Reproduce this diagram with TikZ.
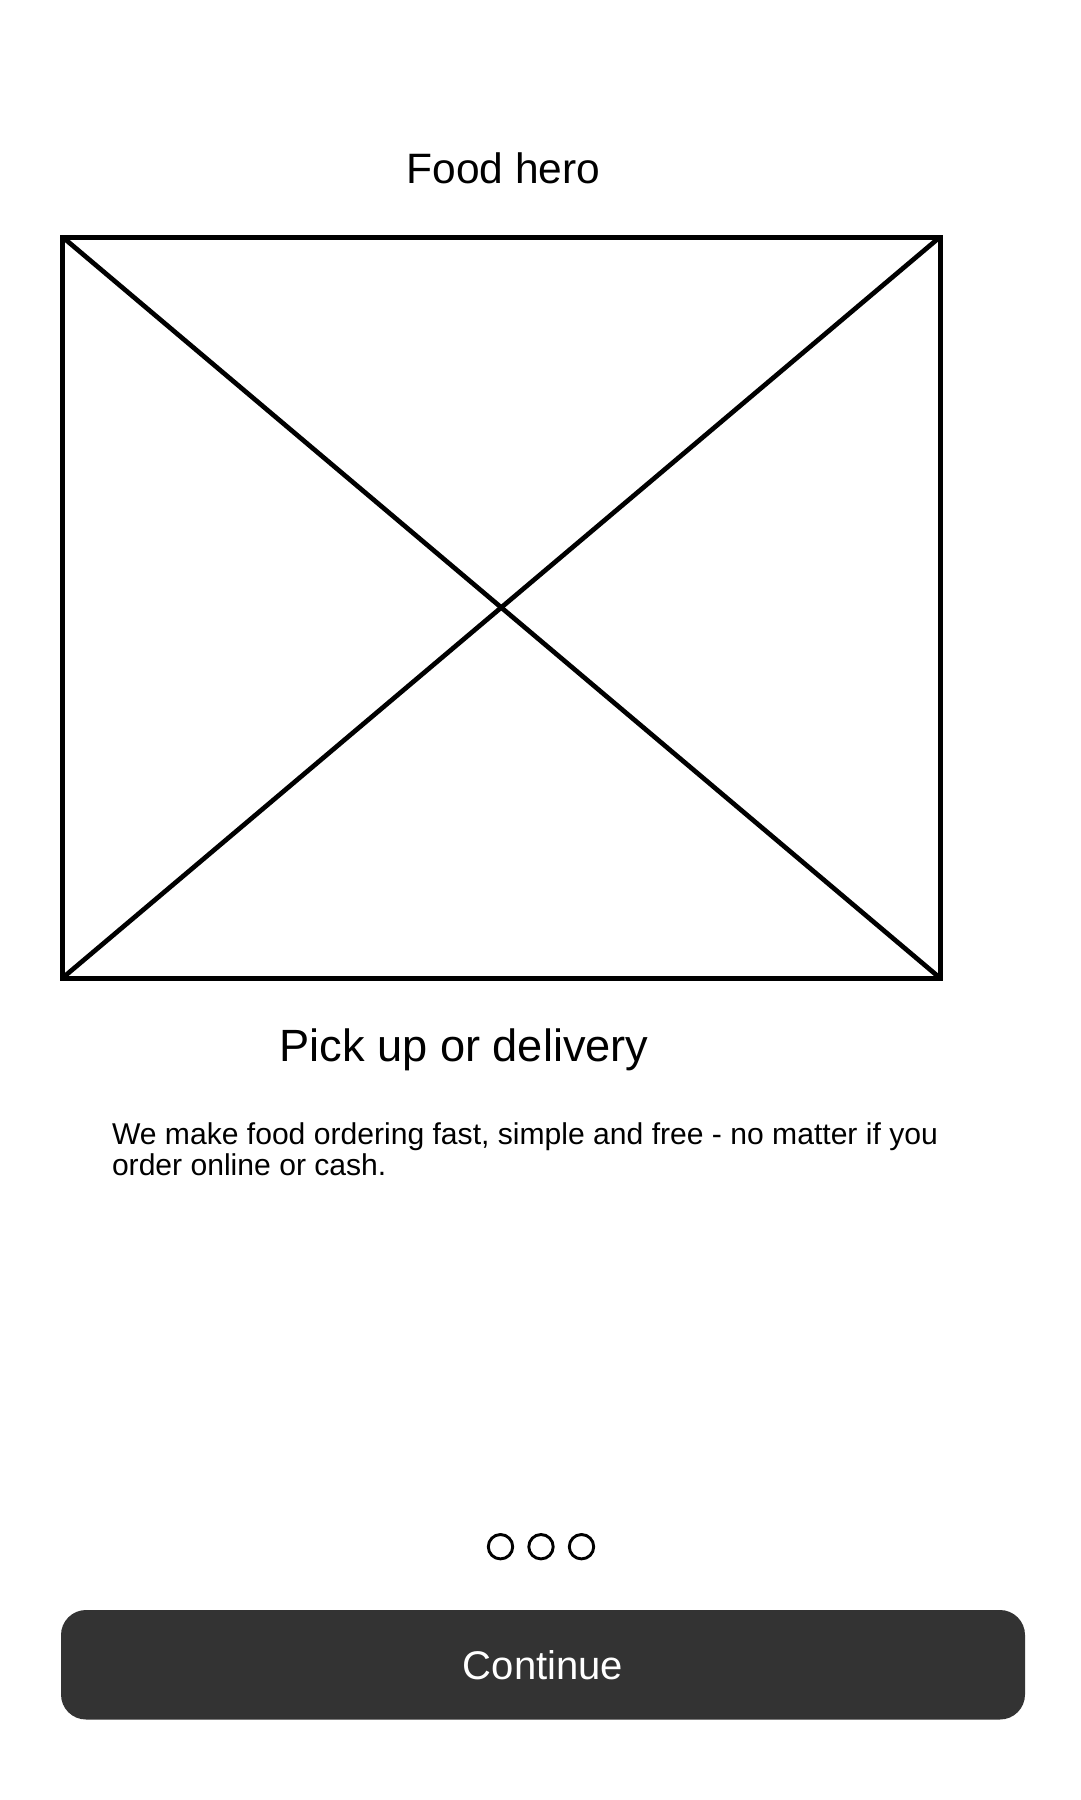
\documentclass[tikz,border=0pt]{standalone}
\usepackage{fontspec}
\setmainfont{Liberation Sans}
\definecolor{btn}{HTML}{333333}
\begin{document}
\begin{tikzpicture}[x=1pt,y=-1pt,
  txt/.style={inner sep=0pt,outer sep=0pt,text=black},
  dot/.style={circle,draw=black,line width=2.9pt,minimum size=24.4pt,inner sep=0pt,outer sep=0pt},
  frame/.style={draw=black,line width=5pt,inner sep=0pt,outer sep=0pt}]
\fill[white] (0,0) rectangle (1080,1800);
\useasboundingbox (0,0) rectangle (1080,1800);
% title
\node[txt,anchor=base,font=\fontsize{42.5}{50}\selectfont] (title) at (503.5,183) {Food hero};
% image placeholder
\node[frame,minimum width=877.5pt,minimum height=741pt] (img) at (501.25,607.5) {};
\draw[line width=4.7pt] (img.north west) -- (img.south east);
\draw[line width=4.7pt] (img.north east) -- (img.south west);
% heading
\node[txt,anchor=base,font=\fontsize{45.2}{54}\selectfont] (head) at (464,1061.5) {Pick up or delivery};
% body
\node[txt,anchor=base west,font=\fontsize{30.1}{30}\selectfont] (body1) at (112,1144.5) {We make food ordering fast, simple and free - no matter if you};
\node[txt,anchor=base west,font=\fontsize{30.1}{30}\selectfont] (body2) at (112,1175) {order online or cash.};
% page dots
\node[dot] (d1) at (500.5,1546.7) {};
\node[dot] (d2) at (541,1546.7) {};
\node[dot] (d3) at (581.5,1546.7) {};
% button
\node[fill=btn,rounded corners=25pt,minimum width=964pt,minimum height=109.5pt,inner sep=0pt,outer sep=0pt,text=white,font=\fontsize{40}{48}\selectfont] (btn) at (543,1664.75) {Continue};
\end{tikzpicture}
\end{document}
